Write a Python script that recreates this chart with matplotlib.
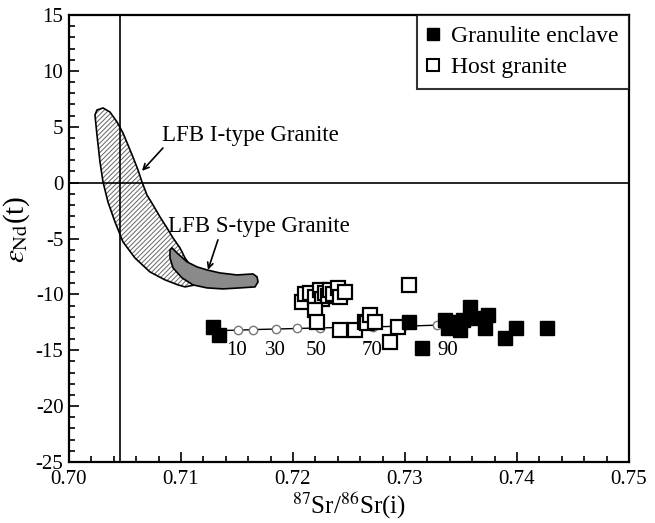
import matplotlib
matplotlib.use("Agg")
import matplotlib.pyplot as plt
from matplotlib.patches import Polygon
from matplotlib.ticker import MultipleLocator

plt.rcParams['font.family'] = ['Liberation Serif', 'DejaVu Serif']
plt.rcParams['mathtext.fontset'] = 'stix'
plt.rcParams['axes.unicode_minus'] = False
plt.rcParams['hatch.linewidth'] = 0.7

# Granulite enclave (filled squares)
gran_x = [0.7129, 0.7134, 0.7304, 0.7315, 0.7336, 0.7338, 0.7342, 0.7345,
          0.7349, 0.7352, 0.7358, 0.7363, 0.7371, 0.7374, 0.7389, 0.7399, 0.7427]
gran_y = [-12.9, -13.6, -12.5, -14.8, -12.3, -13.0, -12.5, -12.8,
          -13.2, -12.3, -11.1, -12.1, -13.0, -11.8, -13.9, -13.0, -13.0]

# Host granite (open squares)
host_x = [0.7208, 0.7211, 0.7215, 0.7220, 0.7224, 0.7226, 0.7229, 0.7231,
          0.7233, 0.7236, 0.7240, 0.7242, 0.7246, 0.7220, 0.7221, 0.7242,
          0.7255, 0.7264, 0.7266, 0.7269, 0.7273, 0.7294, 0.7287, 0.7304]
host_y = [-10.7, -10.0, -9.9, -10.2, -9.6, -10.4, -9.9, -10.1,
          -9.6, -10.0, -9.4, -10.2, -9.8, -11.4, -12.5, -13.2,
          -13.2, -12.5, -12.6, -11.8, -12.5, -12.9, -14.3, -9.2]

# Mixing line and mixing proportions (%)
mix_x = [0.7128, 0.7151, 0.7164, 0.7185, 0.7204, 0.7224, 0.7248, 0.7271, 0.7298, 0.7329, 0.7336]
mix_y = [-13.25, -13.2, -13.15, -13.1, -13.05, -13.0, -12.95, -12.9, -12.85, -12.75, -12.65]
mix_labels = ['10', '30', '50', '70', '90']
mix_label_x = [0.7150, 0.7184, 0.7221, 0.7271, 0.7338]
mix_label_y = -15.0

# LFB I-type granite field outline
itype_x = [0.70250, 0.70304, 0.70366, 0.70429, 0.70482, 0.70527, 0.70571, 0.70616,
           0.70652, 0.70696, 0.70750, 0.70813, 0.70875, 0.70929, 0.70991, 0.71036,
           0.71098, 0.71143, 0.71125, 0.71036, 0.70973, 0.70857, 0.70723, 0.70589,
           0.70482, 0.70411, 0.70348, 0.70304, 0.70277, 0.70250, 0.70232]
itype_y = [6.50, 6.68, 6.32, 5.43, 4.45, 3.37, 2.30, 1.14,
           0.06, -1.10, -1.99, -3.07, -4.05, -4.95, -5.84, -6.74,
           -7.63, -8.43, -9.15, -9.33, -9.15, -8.70, -7.99, -6.74,
           -5.30, -3.52, -1.73, 0.06, 1.85, 4.27, 6.06]

# LFB S-type granite field outline
stype_x = [0.70920, 0.70964, 0.71054, 0.71143, 0.71232, 0.71348, 0.71500, 0.71643,
           0.71679, 0.71688, 0.71661, 0.71527, 0.71375, 0.71232, 0.71107, 0.71009,
           0.70929, 0.70902, 0.70902]
stype_y = [-5.84, -6.29, -7.09, -7.54, -7.81, -8.08, -8.26, -8.17,
           -8.43, -8.88, -9.33, -9.42, -9.51, -9.42, -9.15, -8.52,
           -7.63, -6.74, -6.02]

bulk_earth_sr = 0.7046

fig = plt.figure(figsize=(6.55, 5.23), dpi=100)
ax = fig.add_axes([0.1053, 0.1166, 0.855, 0.8547])

# Fields
ipts = list(zip(itype_x, itype_y))
ax.add_patch(Polygon(ipts, closed=True, facecolor='white', edgecolor='#666666',
                     hatch='///////', linewidth=0, zorder=1))
ax.add_patch(Polygon(ipts, closed=True, fill=False, edgecolor='black', linewidth=1.2, zorder=2))
ax.add_patch(Polygon(list(zip(stype_x, stype_y)), closed=True, facecolor='#8a8a8a',
                     edgecolor='black', linewidth=1.2, zorder=3))

# Reference lines
ax.axvline(bulk_earth_sr, color='black', linewidth=1.2, zorder=2)
ax.axhline(0, color='black', linewidth=1.2, zorder=2)

# Mixing curve
ax.plot(mix_x, mix_y, color='black', linewidth=1.0, zorder=4)
ax.plot(mix_x[1:-1], mix_y[1:-1], linestyle='none', marker='o', markersize=6,
        markerfacecolor='white', markeredgecolor='#777777', markeredgewidth=1.0, zorder=5)
for lab, lx in zip(mix_labels, mix_label_x):
    ax.text(lx, mix_label_y, lab, ha='center', va='center', fontsize=15, zorder=6)

# Samples
ax.plot(host_x, host_y, linestyle='none', marker='s', markersize=10,
        markerfacecolor='white', markeredgecolor='black', markeredgewidth=1.6, zorder=6)
ax.plot(gran_x, gran_y, linestyle='none', marker='s', markersize=10.5,
        markerfacecolor='black', markeredgecolor='black', zorder=7)

# Annotations
ax.text(0.70835, 4.2, 'LFB I-type Granite', fontsize=16.5, va='center', ha='left')
ax.annotate('', xy=(0.70652, 1.05), xytext=(0.70839, 3.1),
            arrowprops=dict(arrowstyle='->', color='black', lw=1.2, shrinkA=0, shrinkB=0))
ax.text(0.70880, -3.9, 'LFB S-type Granite', fontsize=16.5, va='center', ha='left')
ax.annotate('', xy=(0.71241, -7.81), xytext=(0.71330, -5.12),
            arrowprops=dict(arrowstyle='->', color='black', lw=1.2, shrinkA=0, shrinkB=0))

# Legend
ax.plot([], [], linestyle='none', marker='s', markersize=8, markerfacecolor='black',
        markeredgecolor='black', label='Granulite enclave')
ax.plot([], [], linestyle='none', marker='s', markersize=8, markerfacecolor='white',
        markeredgecolor='black', markeredgewidth=1.5, label='Host granite')
handles, labels = ax.get_legend_handles_labels()
leg = ax.legend(handles[-2:], labels[-2:], loc='upper right', borderaxespad=0,
                fontsize=17, frameon=True, fancybox=False, handlelength=0.5,
                handletextpad=0.5, borderpad=0.45, labelspacing=0.4)
leg.get_frame().set_edgecolor('black')
leg.get_frame().set_linewidth(1.5)

# Axes
ax.set_xlim(0.70, 0.75)
ax.set_ylim(-25, 15)
ax.xaxis.set_major_locator(MultipleLocator(0.01))
ax.xaxis.set_minor_locator(MultipleLocator(0.002))
ax.yaxis.set_major_locator(MultipleLocator(5))
ax.yaxis.set_minor_locator(MultipleLocator(1))
ax.set_xticklabels([f'{v:.2f}' for v in ax.get_xticks()])
ax.tick_params(which='both', direction='in', top=False, right=False, labelsize=15, width=1.2)
ax.tick_params(which='major', length=7)
ax.tick_params(axis='y', which='major', pad=4)
ax.tick_params(axis='x', which='major', pad=6)
ax.tick_params(which='minor', length=4)
for s in ax.spines.values():
    s.set_linewidth(1.6)

ax.set_xlabel(r'$^{87}$Sr/$^{86}$Sr(i)', fontsize=18, labelpad=1)
ax.set_ylabel(r'$\varepsilon_{\mathrm{Nd}}$(t)', fontsize=21)
ax.yaxis.set_label_coords(-0.066, 0.52)

fig.savefig('out.png', dpi=100)
